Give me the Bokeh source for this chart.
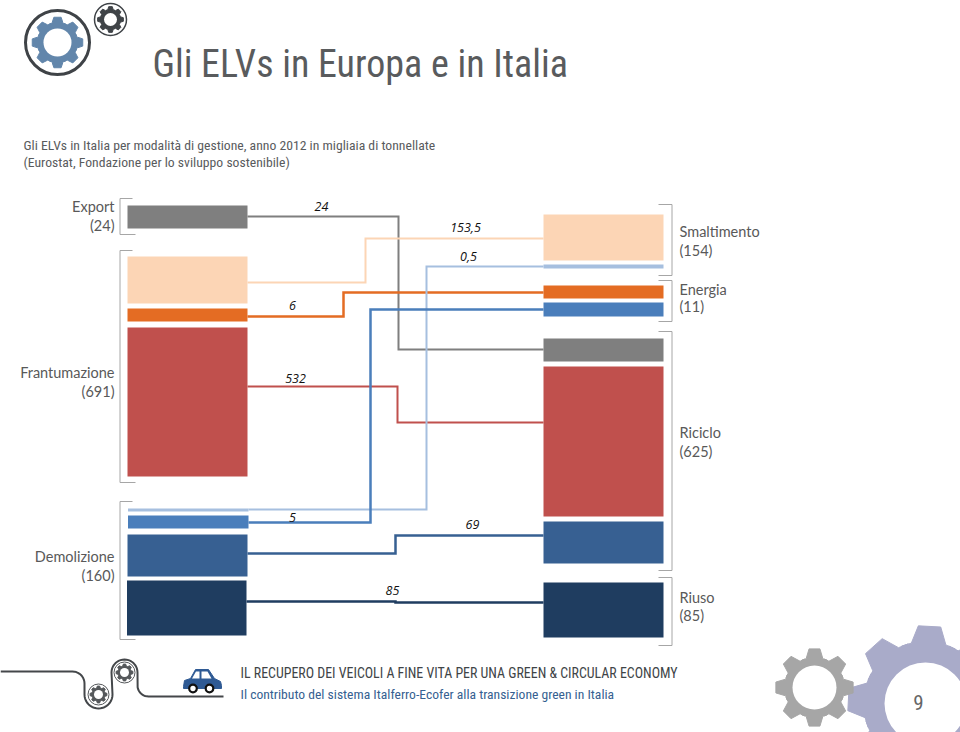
import math
from bokeh.plotting import figure
from bokeh.models import Range1d, ColumnDataSource
from bokeh.core.properties import value
from bokeh.embed import file_html
from bokeh.resources import INLINE

# ---- data ----
flow_names = ["Export", "Smaltimento", "Energia (fr.)", "Riciclo", "Smaltimento (dem.)", "Energia (dem.)", "Riciclo (dem.)", "Riuso"]
flow_values = ["24", "153,5", "6", "532", "0,5", "5", "69", "85"]
flow_colors = ["#7f7f7f", "#fcd5b5", "#e46c23", "#c0504d", "#a6bfdf", "#4a7ebb", "#376092", "#1f3d60"]
flow_widths = [2, 2, 2.5, 2, 2, 2.5, 2.5, 2.5]
label_x = [321, 465, 292, 295, 468, 292, 472, 392]
label_y = [206, 227, 305, 378, 256, 517, 524, 590]

left_top = [205, 256, 308, 327, 508, 515, 534, 580]
left_bottom = [228, 303, 321, 476, 511, 528, 576, 635]
left_start = [127, 127, 127, 127, 127.5, 127.5, 127, 126.5]
left_end = [247, 247, 247, 247, 248, 248, 247, 246]
right_top = [338, 214, 285, 366, 264, 302, 521, 582]
right_bottom = [361, 260, 298, 516, 268, 316, 563, 637]
bend_x = [398, 365, 343, 397, 426, 370, 395, 395]
source_y = [216, 282, 316, 386, 509, 522, 553, 601]
target_y = [349, 238, 292, 422, 266, 309, 535, 602]

left_groups = ["Export", "(24)", "Frantumazione", "(691)", "Demolizione", "(160)"]
left_group_y = [206, 225, 372, 391, 556, 575]
right_groups = ["Smaltimento", "(154)", "Energia", "(11)", "Riciclo", "(625)", "Riuso", "(85)"]
right_group_y = [231, 250, 289, 306, 432, 451, 597, 615]
left_bracket_top = [198, 250, 501]
left_bracket_bottom = [234, 482, 639]
right_bracket_top = [204, 280, 331, 577]
right_bracket_bottom = [275, 321, 570, 645]

TITLE = "Gli ELVs in Europa e in Italia"
SUB1 = "Gli ELVs in Italia per modalità di gestione, anno 2012 in migliaia di tonnellate"
SUB2 = "(Eurostat, Fondazione per lo sviluppo sostenibile)"
FOOT1 = "IL RECUPERO DEI VEICOLI A FINE VITA PER UNA GREEN & CIRCULAR ECONOMY"
FOOT2 = "Il contributo del sistema Italferro-Ecofer alla transizione green in Italia"
PAGE = "9"

W, H = 960, 732
p = figure(width=W, height=H, x_range=Range1d(0, W), y_range=Range1d(H, 0),
           toolbar_location=None, output_backend="svg", min_border=0)
p.axis.visible = False
p.grid.visible = False
p.outline_line_color = None
p.background_fill_color = "white"

NARROW = value("Roboto Condensed")
LATO = value("Lato")


def gear(cx, cy, ro, rr, n=8, rot=0.0):
    """Toothed outline as polygon."""
    xs, ys = [], []
    for i in range(n):
        a = rot + i * 2 * math.pi / n - math.pi / 2
        hw_o = 0.42 * math.pi / n
        hw_r = 0.72 * math.pi / n
        for ang, r in [(a - 1.6 * hw_r, rr), (a - hw_r, rr), (a - hw_o * rr / ro * 1.1, ro),
                       (a + hw_o * rr / ro * 1.1, ro), (a + hw_r, rr), (a + 1.6 * hw_r, rr)]:
            xs.append(cx + r * math.cos(ang))
            ys.append(cy + r * math.sin(ang))
    return xs, ys


def draw_gear(cx, cy, ro, rr, rh, color, rot=0.0):
    xs, ys = gear(cx, cy, ro, rr, rot=rot)
    p.patch(xs, ys, fill_color=color, line_color=color, line_width=1, line_join="round")
    p.circle(x=[cx], y=[cy], radius=rh, fill_color="white", line_color=None)


# header icons
p.circle(x=[57], y=[42], radius=32, fill_color="white", line_color="#3f4347", line_width=3)
draw_gear(57, 42, 25.5, 20, 14, "#6286ab")
p.circle(x=[110], y=[19], radius=16, fill_color="white", line_color="#3f4347", line_width=1.5)
draw_gear(110, 19, 13, 10, 6.5, "#3f4347")

# titles
p.text(x=[152], y=[63], text=[TITLE], text_font=NARROW, text_font_size="38px", text_color="#595b5d",
       text_baseline="middle", text_align="left")
p.text(x=[23], y=[144], text=[SUB1], text_font=NARROW, text_font_size="13.7px", text_color="#595b5d",
       text_baseline="middle")
p.text(x=[23], y=[161], text=[SUB2], text_font=NARROW, text_font_size="13.7px", text_color="#595b5d",
       text_baseline="middle")

# brackets
for t, b in zip(left_bracket_top, left_bracket_bottom):
    p.line([132, 119.5, 119.5, 135], [t, t, b, b], line_color="#a6a6a6", line_width=1)
for t, b in zip(right_bracket_top, right_bracket_bottom):
    p.line([658, 671.5, 671.5, 658], [t, t, b, b], line_color="#a6a6a6", line_width=1)

# connectors
for i in range(len(flow_names)):
    p.line([left_end[i], bend_x[i], bend_x[i], 543], [source_y[i], source_y[i], target_y[i], target_y[i]],
           line_color=flow_colors[i], line_width=flow_widths[i], line_join="miter")

# bars
bars = ColumnDataSource(dict(left=left_start, right=left_end, top=left_top, bottom=left_bottom, color=flow_colors))
p.quad(left="left", right="right", top="top", bottom="bottom", fill_color="color", line_color=None, source=bars)
bars_r = ColumnDataSource(dict(left=[543] * 8, right=[663] * 8, top=right_top, bottom=right_bottom, color=flow_colors))
p.quad(left="left", right="right", top="top", bottom="bottom", fill_color="color", line_color=None, source=bars_r)

# labels
p.text(x=label_x, y=label_y, text=flow_values, text_font=value("Open Sans"), text_font_style="italic", text_font_size="12.5px",
       text_color="#111111", text_align="center", text_baseline="middle")
p.text(x=[114] * len(left_groups), y=left_group_y, text=left_groups, text_font=LATO, text_font_size="14.5px",
       text_color="#595959", text_align="right", text_baseline="middle")
p.text(x=[679] * len(right_groups), y=right_group_y, text=right_groups, text_font=LATO, text_font_size="14.5px",
       text_color="#595959", text_align="left", text_baseline="middle")

# footer road
road_x, road_y = [0, 72], [671, 671]
for t in [i / 10 for i in range(1, 11)]:
    road_x.append(72 + 12 * math.sin(t * math.pi / 2))
    road_y.append(671 + 12 * (1 - math.cos(t * math.pi / 2)))
road_x.append(84); road_y.append(694)
for i in range(1, 21):
    a = math.pi - i * math.pi / 20
    road_x.append(98 + 14 * math.cos(a)); road_y.append(694 + 14 * math.sin(a))
road_x.append(111); road_y.append(672)
for i in range(1, 21):
    a = math.pi + i * math.pi / 20
    road_x.append(124 + 13 * math.cos(a)); road_y.append(672 + 13 * math.sin(a))
for t in [i / 10 for i in range(1, 11)]:
    a = t * math.pi / 2
    road_x.append(137 + 11 * (1 - math.cos(a))); road_y.append(685 + 11 * math.sin(a))
road_x.append(223); road_y.append(696)
p.line(road_x, road_y, line_color="#44474a", line_width=2)
for cx, cy in [(98, 694), (124, 672)]:
    p.circle(x=[cx], y=[cy], radius=10.5, fill_color="white", line_color="#55585b", line_width=1)
    draw_gear(cx, cy, 8.5, 6.5, 4.5, "#55585b")

# car
car = "#2f5a94"
p.patch([183, 184, 190, 195, 208, 214, 220, 221, 221, 183],
        [686, 680, 678, 669, 669, 678, 681, 685, 688, 688], fill_color=car, line_color=car, line_join="round")
p.patch([191.5, 195.5, 199, 199, 191.5], [678, 671, 671, 678, 678], fill_color="white", line_color=None)
p.patch([201, 207, 211, 201], [671, 671, 678, 678], fill_color="white", line_color=None)
p.circle(x=[192.5, 209], y=[688, 688], radius=3.8, fill_color="white", line_color="#111111", line_width=2.2)

# footer text
p.text(x=[240], y=[672], text=[FOOT1], text_font=NARROW, text_font_size="13.9px", text_color="#404447",
       text_baseline="middle")
p.text(x=[240], y=[693], text=[FOOT2], text_font=NARROW, text_font_size="13.6px", text_color="#365f91",
       text_baseline="middle")

# page gears
draw_gear(925, 703, 78, 62, 41, "#a9abc9", rot=math.radians(3))
draw_gear(814, 687, 39, 30, 22, "#a6a6a6")
p.text(x=[918], y=[702], text=[PAGE], text_font=NARROW, text_font_size="21px", text_color="#666666",
       text_align="center", text_baseline="middle")

open("out.html", "w").write(file_html(p, INLINE))
